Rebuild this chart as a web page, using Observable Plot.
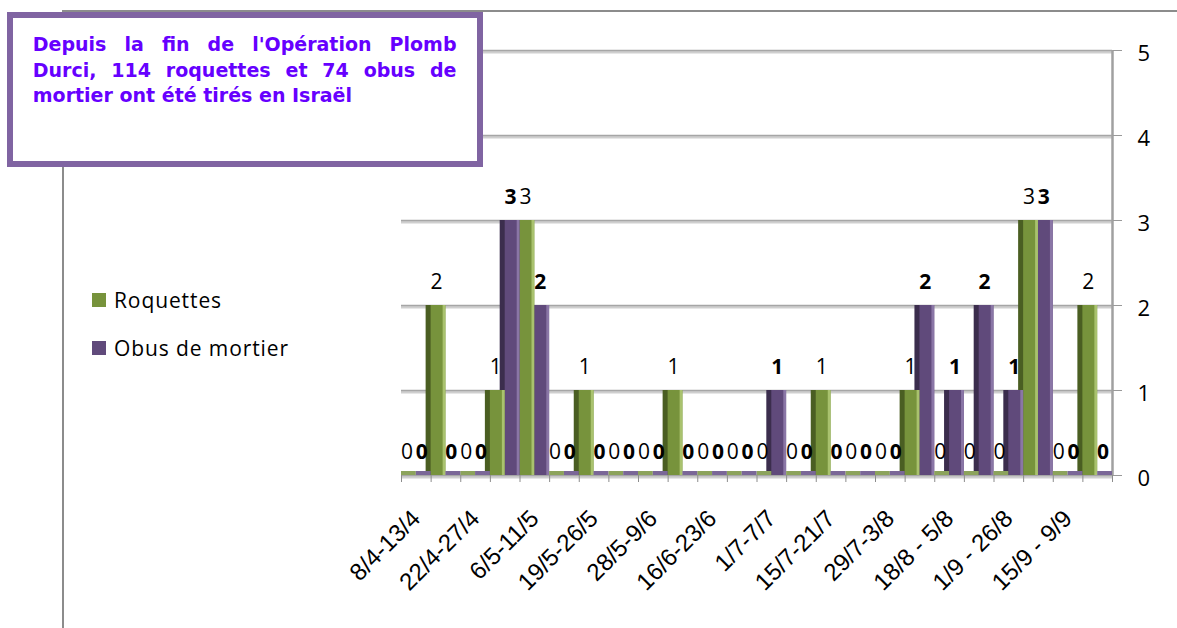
<!DOCTYPE html>
<html>
<head>
<meta charset="utf-8">
<script src="https://cdn.jsdelivr.net/npm/d3@7"></script>
<script src="https://cdn.jsdelivr.net/npm/@observablehq/plot@0.6"></script>
<style>
  html, body { margin: 0; padding: 0; background: #fff; }
  #wrap { position: relative; width: 1177px; height: 628px; overflow: hidden; }
  #chart { position: absolute; left: 0; top: 0; }
  #frame { position: absolute; left: 62px; top: 10px; width: 1200px; height: 700px;
           border-top: 2px solid #8c8c8c; border-left: 2px solid #8c8c8c; box-sizing: border-box; }
  #note { position: absolute; left: 7px; top: 12px; width: 476px; height: 155px; box-sizing: border-box;
          border: 6.5px solid #8064A2; background: #fff; padding: 14px 20.5px 0 19.8px;
          font-family: "DejaVu Sans", Verdana, sans-serif; font-weight: bold; font-size: 19px;
          line-height: 25.7px; color: #6600ff; }
  #note .j { text-align: justify; text-align-last: justify; white-space: nowrap; }
  #note .l { text-align: left; white-space: nowrap; }
  #legend { position: absolute; left: 92px; top: 286px; font-family: "Open Sans", sans-serif; font-size: 21px; color: #000; }
  #legend .item { display: flex; align-items: center; height: 28px; margin-bottom: 20px; letter-spacing: 0.9px; }
  #legend .sw { width: 14px; height: 14px; margin-right: 8px; }
</style>
</head>
<body>
<div id="wrap">
  <div id="frame"></div>
  <div id="chart"></div>
  <div id="note">
    <div class="j">Depuis la fin de l'Opération Plomb</div>
    <div class="j">Durci, 114 roquettes et 74 obus de</div>
    <div class="l">mortier ont été tirés en Israël</div>
  </div>
  <div id="legend"></div>
</div>
<script>
// ---- data (24 weekly categories, labels shown every other category) ----
const tickLabels = ["8/4-13/4", "22/4-27/4", "6/5-11/5", "19/5-26/5", "28/5-9/6", "16/6-23/6",
                    "1/7-7/7", "15/7-21/7", "29/7-3/8", "18/8 - 5/8", "1/9 - 26/8", "15/9 - 9/9"];
const seriesNames = ["Roquettes", "Obus de mortier"];
const roquettes = [0, 2, 0, 1, 3, 0, 1, 0, 0, 1, 0, 0, 0, 0, 1, 0, 0, 1, 0, 0, 0, 3, 0, 2];
const obus      = [0, 0, 0, 3, 2, 0, 0, 0, 0, 0, 0, 0, 1, 0, 0, 0, 0, 2, 1, 2, 1, 3, 0, 0];
const yTicks = [0, 1, 2, 3, 4, 5];

const colors = {
  face:  ["#77933C", "#604A7B"],
  side:  ["#4A5E22", "#3B2D4D"],
  edge:  ["#A9C26E", "#8A76A6"],
  strip: ["#8CA35C", "#7A6797"]
};

// build table: series 0 in first half of a category, series 1 in second half
const rows = [];
[roquettes, obus].forEach((vals, s) => {
  vals.forEach((v, i) => rows.push({ i, s, v, x1: i + s * 0.5, x2: i + s * 0.5 + 0.5, xc: i + s * 0.5 + 0.25 }));
});
const green = rows.filter(d => d.s === 0);
const purple = rows.filter(d => d.s === 1);

const nCat = roquettes.length;
const boundaryTicks = d3.range(nCat + 1);
const labelTicks = tickLabels.map((_, k) => 2 * k + 0.5);

const baseFont = "'Open Sans', sans-serif";

const chart = Plot.plot({
  width: 1177,
  height: 628,
  marginLeft: 401,
  marginRight: 65,
  marginTop: 50,
  marginBottom: 153,
  style: { fontFamily: baseFont, background: "transparent", overflow: "visible" },
  x: { domain: [0, nCat], label: null },
  y: { domain: [0, 5], label: null },
  marks: [
    // gridlines (double gray, 3D wall look)
    Plot.ruleY(yTicks, { stroke: "#cfcfcf", strokeWidth: 3, dy: 1.5 }),
    Plot.ruleY(yTicks, { stroke: "#a6a6a6", strokeWidth: 1.5 }),
    // right axis line
    Plot.ruleX([nCat], { y1: 0, y2: 5, stroke: "#a0a0a0", strokeWidth: 2.5 }),
    // bar side faces
    Plot.rectY(rows.filter(d => d.v > 0), { x1: "x1", x2: "x2", y1: 0, y2: "v", dx: -5,
      fill: d => colors.side[d.s] }),
    // bar front faces
    Plot.rectY(rows.filter(d => d.v > 0), { x1: "x1", x2: "x2", y1: 0, y2: "v",
      fill: d => colors.face[d.s] }),
    // light right edge
    Plot.rectY(rows.filter(d => d.v > 0), { x1: "x1", x2: "x2", y1: 0, y2: "v", insetLeft: 12,
      fill: d => colors.edge[d.s] }),
    // zero-value bars as thin floor strips
    Plot.rectY(rows.filter(d => d.v === 0), { x1: "x1", x2: "x2", y1: "v", y2: "v", insetTop: -4,
      fill: d => colors.strip[d.s] }),
    // category boundary ticks
    Plot.axisX({ ticks: boundaryTicks, tickSize: 7, tickFormat: () => "", stroke: "#8c8c8c" }),
    // category labels (every other category)
    Plot.axisX({ ticks: labelTicks, tickSize: 0, tickPadding: 39, tickRotate: -45,
      tickFormat: t => tickLabels[(t - 0.5) / 2], fontSize: 24,
      fontFamily: "'Liberation Sans', Arial, sans-serif", fill: "#000" }),
    // right value axis
    Plot.axisY({ anchor: "right", ticks: yTicks, tickSize: 9, tickFormat: () => "", stroke: "#999" }),
    Plot.axisY({ anchor: "right", ticks: yTicks, tickSize: 0, tickPadding: 25, dy: 3,
      tickFormat: d3.format("d"), fontSize: 22, fill: "#000" }),
    // data labels
    Plot.text(green, { x: "xc", y: "v", text: d => String(d.v), dy: -23, dx: -2,
      fontSize: 21, fill: "#000" }),
    Plot.text(purple, { x: "xc", y: "v", text: d => String(d.v), dy: -23, dx: -2,
      fontSize: 21, fontWeight: "bold", fill: "#000" })
  ]
});
document.getElementById("chart").appendChild(chart);

// legend
const legend = document.getElementById("legend");
seriesNames.forEach((name, s) => {
  const item = document.createElement("div");
  item.className = "item";
  const sw = document.createElement("span");
  sw.className = "sw";
  sw.style.background = colors.face[s];
  const t = document.createElement("span");
  t.textContent = name;
  item.appendChild(sw);
  item.appendChild(t);
  legend.appendChild(item);
});
</script>
</body>
</html>
